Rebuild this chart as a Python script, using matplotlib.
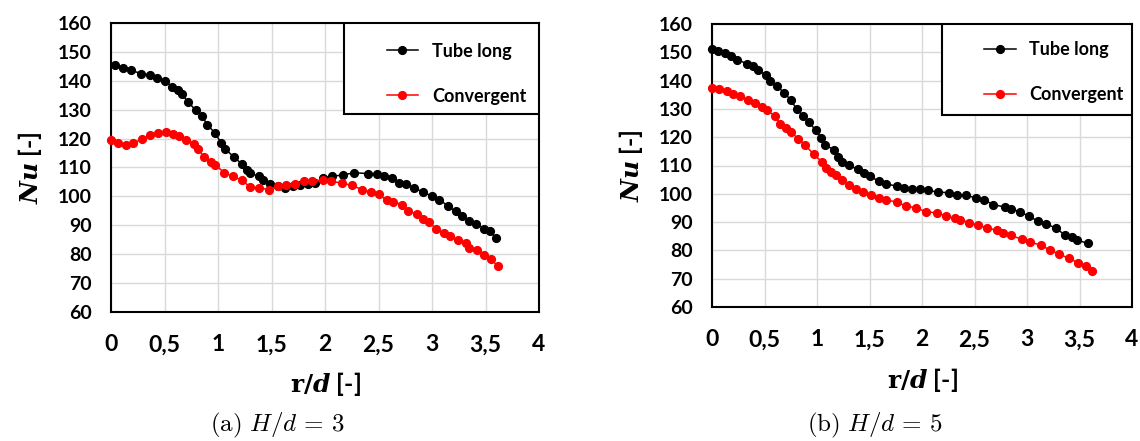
import matplotlib
matplotlib.use('Agg')
import matplotlib.pyplot as plt
from matplotlib.patches import Rectangle

# ---- data ----
x_ticks = [0, 0.5, 1, 1.5, 2, 2.5, 3, 3.5, 4]
x_tick_labels = ['0', '0,5', '1', '1,5', '2', '2,5', '3', '3,5', '4']
y_ticks = [60, 70, 80, 90, 100, 110, 120, 130, 140, 150, 160]
series_labels = ['Tube long', 'Convergent']
captions = ['(a) H/d = 3', '(b) H/d = 5']

# H/d = 3
r_h3_tube = [0.04, 0.11, 0.19, 0.28, 0.36, 0.43, 0.50, 0.57, 0.63, 0.66,
             0.72, 0.79, 0.85, 0.90, 0.97, 1.03, 1.07, 1.15, 1.22, 1.27,
             1.30, 1.38, 1.42, 1.49, 1.56, 1.63, 1.70, 1.77, 1.84, 1.91,
             1.98, 2.07, 2.17, 2.27, 2.40, 2.49, 2.55, 2.63, 2.69, 2.76,
             2.83, 2.92, 3.00, 3.07, 3.15, 3.22, 3.28, 3.35, 3.41, 3.49,
             3.54, 3.60]
nu_h3_tube = [145.4, 144.4, 143.6, 142.5, 142.1, 141.1, 140.0, 138.0, 136.7, 135.3,
              132.8, 129.8, 127.8, 124.8, 122.0, 118.5, 116.3, 113.6, 111.3, 109.0,
              108.1, 106.9, 105.6, 104.4, 103.6, 103.0, 103.5, 104.0, 104.3, 104.6,
              106.4, 107.0, 107.4, 108.2, 107.9, 107.9, 107.0, 106.4, 104.7, 104.4,
              102.9, 101.5, 100.0, 98.9, 96.6, 94.8, 93.2, 91.5, 90.6, 88.7,
              87.9, 85.7]
r_h3_conv = [0.00, 0.07, 0.14, 0.21, 0.29, 0.36, 0.44, 0.51, 0.58, 0.64,
             0.70, 0.78, 0.81, 0.87, 0.93, 0.97, 1.06, 1.14, 1.22, 1.30,
             1.38, 1.48, 1.56, 1.64, 1.72, 1.80, 1.88, 1.98, 2.06, 2.16,
             2.25, 2.35, 2.43, 2.50, 2.58, 2.64, 2.72, 2.78, 2.86, 2.92,
             2.97, 3.04, 3.11, 3.17, 3.24, 3.32, 3.35, 3.42, 3.49, 3.55,
             3.62]
nu_h3_conv = [119.6, 118.6, 117.9, 118.6, 119.7, 121.1, 122.0, 122.3, 121.7, 120.8,
              119.6, 118.2, 116.5, 113.6, 111.9, 111.0, 108.2, 106.9, 105.6, 103.3,
              103.0, 102.3, 103.6, 104.1, 104.4, 105.2, 105.2, 105.6, 105.2, 104.6,
              103.8, 102.3, 101.5, 100.7, 98.6, 98.1, 97.1, 94.9, 93.8, 92.3,
              91.1, 88.8, 87.3, 86.2, 84.8, 83.9, 82.1, 81.3, 79.8, 78.2,
              75.8]

# H/d = 5
r_h5_tube = [0.00, 0.06, 0.12, 0.18, 0.24, 0.33, 0.39, 0.44, 0.51, 0.55,
             0.62, 0.69, 0.75, 0.81, 0.87, 0.92, 0.99, 1.04, 1.08, 1.16,
             1.20, 1.24, 1.30, 1.39, 1.45, 1.50, 1.59, 1.66, 1.76, 1.83,
             1.90, 1.98, 2.06, 2.15, 2.26, 2.33, 2.42, 2.51, 2.59, 2.68,
             2.79, 2.85, 2.93, 3.02, 3.10, 3.18, 3.28, 3.36, 3.43, 3.48,
             3.58]
nu_h5_tube = [151.2, 150.6, 149.8, 148.8, 147.4, 146.0, 145.1, 143.6, 142.1, 139.8,
              138.0, 135.6, 133.1, 129.8, 127.4, 125.4, 122.4, 119.8, 117.2, 115.6,
              113.1, 111.2, 110.1, 108.6, 107.2, 106.2, 104.5, 103.5, 102.7, 102.1,
              101.8, 101.8, 101.2, 100.6, 100.4, 99.4, 99.4, 98.6, 97.8, 96.2,
              95.3, 94.7, 93.6, 92.1, 90.4, 89.4, 87.8, 85.4, 84.8, 83.6,
              82.5]
r_h5_conv = [0.00, 0.07, 0.14, 0.20, 0.27, 0.34, 0.41, 0.48, 0.52, 0.60,
             0.65, 0.70, 0.75, 0.82, 0.89, 0.97, 1.05, 1.09, 1.13, 1.18,
             1.24, 1.30, 1.37, 1.44, 1.51, 1.59, 1.66, 1.76, 1.85, 1.94,
             2.04, 2.14, 2.23, 2.31, 2.36, 2.45, 2.53, 2.62, 2.71, 2.77,
             2.85, 2.95, 3.03, 3.13, 3.22, 3.30, 3.40, 3.49, 3.56, 3.62]
nu_h5_conv = [137.4, 137.1, 136.2, 135.4, 134.5, 133.1, 132.1, 130.7, 129.5, 127.6,
              124.7, 123.3, 121.9, 119.5, 117.1, 113.9, 111.2, 109.2, 107.8, 106.5,
              104.7, 103.1, 101.8, 100.6, 99.5, 98.6, 97.8, 97.1, 95.6, 95.1,
              93.6, 93.3, 92.1, 91.3, 90.9, 89.8, 88.9, 88.0, 87.1, 86.2,
              85.3, 83.9, 82.9, 81.9, 80.1, 78.8, 77.2, 75.6, 74.5, 72.7]

SANS = ['Lato', 'DejaVu Sans']
W, H = 1140, 441

fig = plt.figure(figsize=(W / 100, H / 100), dpi=100)


def px_axes(x0, y0, x1, y1):
    return fig.add_axes([x0 / W, 1 - y1 / H, (x1 - x0) / W, (y1 - y0) / H])


def draw_panel(ax, r_tube, nu_tube, r_conv, nu_conv, leg_box, leg_y):
    ax.plot(r_tube, nu_tube, '-o', color='black', lw=1.1, ms=5.6,
            label=series_labels[0], zorder=3, clip_on=False)
    ax.plot(r_conv, nu_conv, '-o', color='#ff0000', lw=1.1, ms=5.6,
            label=series_labels[1], zorder=3, clip_on=False)
    ax.set_xlim(0, 4)
    ax.set_ylim(60, 160)
    ax.set_xticks(x_ticks)
    ax.set_xticklabels(x_tick_labels, fontsize=16.5, fontweight='bold', family=SANS)
    ax.set_yticks(y_ticks)
    ax.set_yticklabels([str(v) for v in y_ticks], fontsize=14, fontweight='bold', family=SANS)
    ax.tick_params(axis='x', length=0, pad=16)
    ax.tick_params(axis='y', length=0, pad=14)
    ax.grid(True, color='#d9d9d9', lw=1.0)
    ax.set_axisbelow(True)
    for s in ax.spines.values():
        s.set_linewidth(1.5)
        s.set_color('black')

    # legend box (Excel style, big left padding)
    bx0, by0 = leg_box
    ax.add_patch(Rectangle((bx0, by0), 1 - bx0, 1 - by0, transform=ax.transAxes,
                           facecolor='white', edgecolor='black', lw=1.5, zorder=4))
    leg = ax.legend(loc='center left', bbox_to_anchor=(bx0 + 0.10, leg_y),
                    frameon=False, borderpad=0, borderaxespad=0,
                    handlelength=1.75, handletextpad=0.75, labelspacing=1.55,
                    prop={'family': SANS, 'weight': 'bold', 'size': 13})
    leg.set_zorder(5)

    ax.set_xlabel(r'$\mathbf{r/}\mathbfit{d}$ [-]', fontsize=18, fontweight='bold',
                  family=SANS, math_fontfamily='dejavuserif', labelpad=11)
    ax.set_ylabel(r'$\mathbfit{Nu}$ [-]', fontsize=18, fontweight='bold',
                  family=SANS, math_fontfamily='dejavuserif', labelpad=10)


ax1 = px_axes(111, 23, 539, 312)
draw_panel(ax1, r_h3_tube, nu_h3_tube, r_h3_conv, nu_h3_conv, (0.544, 0.685), 0.825)

ax2 = px_axes(712, 24, 1132, 307)
draw_panel(ax2, r_h5_tube, nu_h5_tube, r_h5_conv, nu_h5_conv, (0.548, 0.678), 0.829)

for xc, cap in zip([277, 875], captions):
    tag, rest = cap.split(' ', 1)
    fig.text(xc / W, 1 - 425 / H, r'$\mathrm{' + tag + r'}\ ' + rest.replace('=', r'\,=\,') + '$',
             fontsize=18, ha='center', va='center', math_fontfamily='cm')

fig.savefig('out.png', dpi=100, facecolor='white')
